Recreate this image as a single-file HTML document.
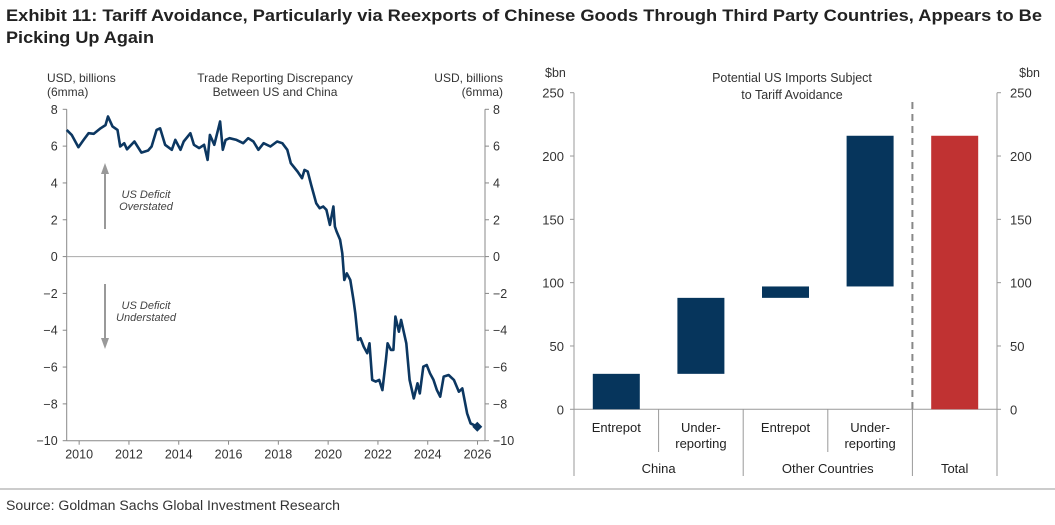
<!DOCTYPE html>
<html><head><meta charset="utf-8"><style>
body{margin:0;background:#fff;width:1055px;height:520px;overflow:hidden;font-family:"Liberation Sans",sans-serif;}
svg text{font-family:"Liberation Sans",sans-serif;}
</style></head><body>
<svg width="1055" height="520">
<text x="6" y="21" font-size="17" font-weight="bold" fill="#222" textLength="1036" lengthAdjust="spacingAndGlyphs">Exhibit 11: Tariff Avoidance, Particularly via Reexports of Chinese Goods Through Third Party Countries, Appears to Be</text>
<text x="6" y="43" font-size="17" font-weight="bold" fill="#222" textLength="148" lengthAdjust="spacingAndGlyphs">Picking Up Again</text>
<line x1="0" y1="489" x2="1055" y2="489" stroke="#999" stroke-width="1"/>
<text x="6" y="510" font-size="13.5" fill="#333" textLength="334" lengthAdjust="spacingAndGlyphs">Source: Goldman Sachs Global Investment Research</text>
<g id="left"></g>
<g id="right"></g>
</svg>
<script>
const NS='http://www.w3.org/2000/svg';
const lineYears=[2009.50,2009.70,2009.97,2010.18,2010.38,2010.59,2010.86,2011.06,2011.16,2011.34,2011.54,2011.65,2011.81,2011.92,2012.22,2012.50,2012.77,2012.91,2013.11,2013.25,2013.45,2013.72,2013.86,2014.07,2014.20,2014.47,2014.61,2014.82,2015.02,2015.16,2015.25,2015.43,2015.66,2015.77,2015.88,2016.04,2016.32,2016.59,2016.79,2017.00,2017.20,2017.41,2017.68,2017.95,2018.16,2018.36,2018.50,2018.77,2018.95,2019.05,2019.18,2019.32,2019.52,2019.66,2019.80,2019.93,2020.07,2020.21,2020.27,2020.34,2020.48,2020.57,2020.65,2020.75,2020.89,2021.02,2021.09,2021.20,2021.30,2021.43,2021.57,2021.66,2021.77,2021.91,2022.05,2022.18,2022.32,2022.39,2022.52,2022.62,2022.70,2022.84,2022.93,2023.14,2023.27,2023.44,2023.59,2023.68,2023.82,2023.96,2024.09,2024.23,2024.37,2024.50,2024.64,2024.84,2025.05,2025.25,2025.39,2025.58,2025.72,2025.86,2026.00,2026.03];
const lineValues=[6.88,6.61,5.94,6.34,6.70,6.67,6.97,7.14,7.61,7.07,6.88,5.98,6.16,5.83,6.25,5.65,5.76,5.98,6.88,6.97,6.07,5.80,6.34,5.80,6.25,6.70,6.07,5.89,6.07,5.25,6.61,6.07,7.34,5.80,6.34,6.43,6.34,6.16,6.43,6.25,5.80,6.16,5.98,6.25,6.16,5.80,5.07,4.62,4.26,4.71,4.62,3.89,2.90,2.63,2.72,2.54,1.72,2.72,1.63,1.36,0.91,0.18,-1.27,-0.91,-1.27,-2.36,-3.08,-4.53,-4.44,-4.89,-5.25,-4.71,-6.70,-6.79,-6.70,-7.25,-5.62,-4.71,-5.07,-5.07,-3.26,-4.08,-3.44,-4.71,-6.70,-7.70,-6.88,-7.43,-5.98,-5.89,-6.34,-6.70,-7.25,-7.61,-6.52,-6.43,-6.70,-7.34,-7.16,-8.51,-9.06,-9.15,-9.24,-9.24];
const leftYTicks=[8,6,4,2,0,-2,-4,-6,-8,-10];
const leftXTicks=[2010,2012,2014,2016,2018,2020,2022,2024,2026];
const barCategories=['Entrepot','Under-|reporting','Entrepot','Under-|reporting',''];
const barStarts=[0,28,88,97,0];
const barEnds=[28,88,97,216,216];
const barColors=['#06355c','#06355c','#06355c','#06355c','#c03232'];
const rightYTicks=[0,50,100,150,200,250];
const groupLabels=['China','Other Countries','Total'];

function el(tag,attrs,parent,text){const e=document.createElementNS(NS,tag);for(const k in attrs)e.setAttribute(k,attrs[k]);if(text!==undefined)e.textContent=text;parent.appendChild(e);return e;}

const L=document.getElementById('left');
const lx0=66.7,lx1=485,ly0=109.3,ly1=440.7;
const xs=y=>lx0+(y-2009.5)/(16.8)*(lx1-lx0);
const ys=v=>ly0+(8-v)/18*(ly1-ly0);
let t;
t=el('text',{x:47,y:82,'font-size':12,fill:'#333'},L,'USD, billions');
t=el('text',{x:47,y:96,'font-size':12,fill:'#333'},L,'(6mma)');
t=el('text',{x:503,y:82,'font-size':12,fill:'#333','text-anchor':'end'},L,'USD, billions');
t=el('text',{x:503,y:96,'font-size':12,fill:'#333','text-anchor':'end'},L,'(6mma)');
t=el('text',{x:275,y:82,'font-size':12,fill:'#333','text-anchor':'middle'},L,'Trade Reporting Discrepancy');
t=el('text',{x:275,y:96,'font-size':12,fill:'#333','text-anchor':'middle'},L,'Between US and China');
t=el('line',{x1:lx0,y1:ly0,x2:lx0,y2:ly1,stroke:'#888'},L);
t=el('line',{x1:lx1,y1:ly0,x2:lx1,y2:ly1,stroke:'#888'},L);
t=el('line',{x1:lx0,y1:ly1,x2:lx1,y2:ly1,stroke:'#888'},L);
t=el('line',{x1:lx0,y1:ys(0),x2:lx1,y2:ys(0),stroke:'#aaa'},L);
leftYTicks.forEach(v=>{const y=ys(v);const lab=v<0?'\u2212'+(-v):''+v;
 el('line',{x1:lx0-4,y1:y,x2:lx0,y2:y,stroke:'#888'},L);el('line',{x1:lx1,y1:y,x2:lx1+4,y2:y,stroke:'#888'},L);
 t=el('text',{x:lx0-9,y:y+4.5,'font-size':12.5,fill:'#333','text-anchor':'end'},L,lab);
 t=el('text',{x:lx1+8,y:y+4.5,'font-size':12.5,fill:'#333'},L,lab);});
leftXTicks.forEach(yr=>{const x=xs(yr);el('line',{x1:x,y1:ly1,x2:x,y2:ly1+4,stroke:'#888'},L);
 t=el('text',{x:x,y:ly1+18,'font-size':12.5,fill:'#333','text-anchor':'middle'},L,''+yr);});
const ax=105;
t=el('line',{x1:ax,y1:229,x2:ax,y2:172,stroke:'#999','stroke-width':2},L);
el('polygon',{points:`${ax-4},174 ${ax+4},174 ${ax},163`,fill:'#999'},L);
t=el('line',{x1:ax,y1:284,x2:ax,y2:340,stroke:'#999','stroke-width':2},L);
el('polygon',{points:`${ax-4},338 ${ax+4},338 ${ax},349`,fill:'#999'},L);
[['US Deficit',198],['Overstated',210],['US Deficit',309],['Understated',321]].forEach(a=>{t=el('text',{x:146,y:a[1],'font-size':11,'font-style':'italic',fill:'#444','text-anchor':'middle'},L,a[0]);});
let d='';lineYears.forEach((yr,i)=>{d+=(i?'L':'M')+xs(yr).toFixed(1)+','+ys(lineValues[i]).toFixed(1);});
t=el('path',{d:d,fill:'none',stroke:'#0c3761','stroke-width':2.6,'stroke-linejoin':'round'},L);
const li=lineYears.length-1;const lpx=xs(lineYears[li]),lpy=ys(lineValues[li]);
t=el('polygon',{points:`${lpx-6},${lpy} ${lpx-1},${lpy-5} ${lpx+4},${lpy} ${lpx-1},${lpy+5}`,fill:'#0c3761'},L);

const R=document.getElementById('right');
const rx0=574,rx1=997,ry0=92.7,ry1=409.3;
const ry=v=>ry1-v/250*(ry1-ry0);
const cw=(rx1-rx0)/barCategories.length;
t=el('text',{x:545,y:77,'font-size':12.5,fill:'#333'},R,'$bn');
t=el('text',{x:1040,y:77,'font-size':12.5,fill:'#333','text-anchor':'end'},R,'$bn');
t=el('text',{x:792,y:82,'font-size':12.5,fill:'#333','text-anchor':'middle'},R,'Potential US Imports Subject');
t=el('text',{x:792,y:99,'font-size':12.5,fill:'#333','text-anchor':'middle'},R,'to Tariff Avoidance');
t=el('line',{x1:rx0,y1:ry0,x2:rx0,y2:476,stroke:'#999'},R);
t=el('line',{x1:rx1,y1:ry0,x2:rx1,y2:476,stroke:'#999'},R);
t=el('line',{x1:rx0,y1:ry1,x2:rx1,y2:ry1,stroke:'#999'},R);
rightYTicks.forEach(v=>{const y=ry(v);el('line',{x1:rx0-4,y1:y,x2:rx0,y2:y,stroke:'#999'},R);el('line',{x1:rx1,y1:y,x2:rx1+4,y2:y,stroke:'#999'},R);
 t=el('text',{x:rx0-10,y:y+5,'font-size':13,fill:'#333','text-anchor':'end'},R,''+v);
 t=el('text',{x:rx1+13,y:y+5,'font-size':13,fill:'#333'},R,''+v);});
barCategories.forEach((c,i)=>{const cx=rx0+cw*(i+0.5);
 t=el('rect',{x:cx-23.5,y:ry(barEnds[i]),width:47,height:ry(barStarts[i])-ry(barEnds[i]),fill:barColors[i]},R);
 if(c) c.split('|').forEach((p,j)=>{t=el('text',{x:cx,y:432+j*16,'font-size':13,fill:'#222','text-anchor':'middle'},R,p);});
 if(i>0){const x=rx0+cw*i;const long=(i==2||i==4);el('line',{x1:x,y1:ry1,x2:x,y2:long?476:452,stroke:'#999'},R);}
});
t=el('line',{x1:rx0+cw*4,y1:102,x2:rx0+cw*4,y2:ry1,stroke:'#888','stroke-width':2,'stroke-dasharray':'7,5'},R);
[[rx0+cw,groupLabels[0]],[rx0+cw*3,groupLabels[1]],[rx0+cw*4.5,groupLabels[2]]].forEach(g=>{t=el('text',{x:g[0],y:473,'font-size':13,fill:'#222','text-anchor':'middle'},R,g[1]);});
</script>
</body></html>
